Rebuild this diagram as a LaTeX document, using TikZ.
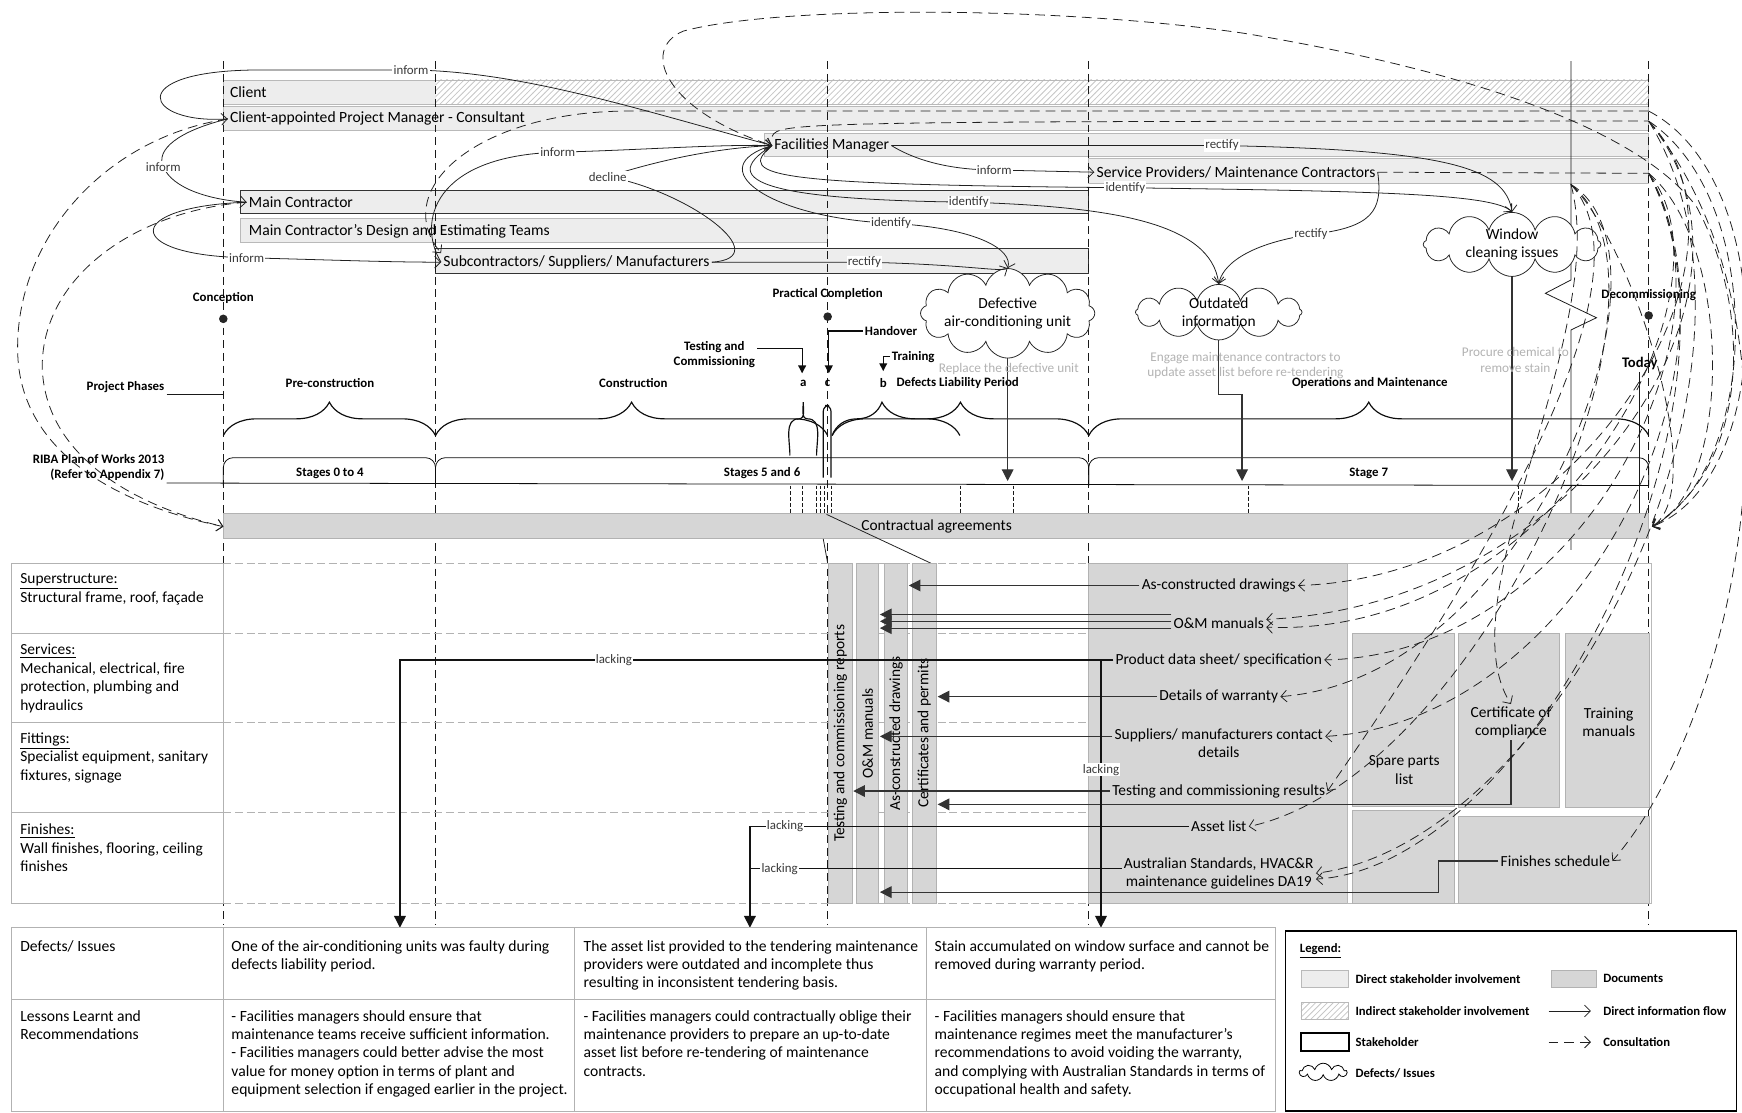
\documentclass[tikz,border=0pt]{standalone}
\usepackage{fontspec}
\setmainfont{Carlito}
\usetikzlibrary{arrows.meta, patterns, decorations.pathreplacing, shapes.symbols, positioning}

\tikzset{
  stakebar/.style={draw=gray!55, fill=gray!14},
  docbox/.style={draw=gray!60, fill=gray!32},
  phaseline/.style={gray!20!black, dash pattern=on 4pt off 2.5pt},
  gridline/.style={gray!60, dash pattern=on 4pt off 2pt},
  flow/.style={gray!25!black, -{Straight Barb[length=3pt,width=6pt]}},
  consult/.style={gray!25!black, dash pattern=on 5pt off 3pt, -{Straight Barb[length=3pt,width=6pt]}},
  docflow/.style={gray!40!black, semithick, -{Triangle[length=6pt,width=6pt]}},
  lack/.style={gray!15!black, semithick, -{Triangle[length=6pt,width=6pt]}},
  milestonearrow/.style={gray!10!black, semithick, -{Triangle[length=4pt,width=4pt]}},
  stxt/.style={font=\fontsize{8}{9.5}\selectfont, inner sep=1pt, anchor=west},
  ptxt/.style={font=\bfseries\fontsize{6.6}{7.6}\selectfont, inner sep=1pt, align=center},
  dtxt/.style={font=\fontsize{7.9}{9.4}\selectfont, inner sep=1pt, align=center},
  ttxt/.style={font=\fontsize{8}{9.4}\selectfont, inner sep=0pt, anchor=north west, align=left},
  gtxt/.style={font=\fontsize{7.9}{9.6}\selectfont, inner sep=0pt, anchor=north west, align=left},
  lbl/.style={font=\fontsize{6.6}{7.5}\selectfont, fill=white, inner sep=0.6pt, text=gray!45!black},
  note/.style={font=\fontsize{6.8}{8}\selectfont, text=gray!60, align=center, inner sep=0pt},
  issue/.style={cloud, draw=gray!30!black, cloud puffs=12, cloud ignores aspect=false, aspect=2.9,
    fill=white, align=center, font=\fontsize{7.9}{9.4}\selectfont, inner sep=-2pt},
  legtxt/.style={font=\bfseries\fontsize{6.5}{8}\selectfont, anchor=west, inner sep=1pt},
}

\begin{document}
\begin{tikzpicture}[x=0.02cm, y=-0.02cm]
\useasboundingbox (0,0) rectangle (1568,1001);

% stakeholder bars
\fill[gray!14] (201,72) rectangle (392,94);
\fill[pattern=north east lines, pattern color=gray!45] (392,72) rectangle (1484,94);
\draw[gray!55] (201,72) rectangle (1484,94);
\draw[stakebar] (201,96) rectangle (1484,117);
\draw[stakebar] (688,120) rectangle (1484,141);
\draw[stakebar] (980,143) rectangle (1484,165);
\draw[stakebar, draw=gray!40!black] (216,171) rectangle (980,192);
\draw[stakebar] (216,197) rectangle (745,218);
\draw[stakebar, draw=gray!40!black] (392,224) rectangle (980,246);

% phase boundaries
\foreach \x in {201,392,745,980,1484}
  \draw[phaseline] (\x,55) -- (\x,833);
\draw[gray!20!black] (1414,55) -- (1414,252) -- (1391,264) -- (1437,286) -- (1414,297) -- (1414,495);

% stakeholders
\node[stxt] (client) at (205,83) {Client};
\node[stxt] (pm) at (205,107) {Client-appointed Project Manager - Consultant};
\node[stxt] (fm) at (695,131) {Facilities Manager};
\node[stxt] (sp) at (985,155) {Service Providers/ Maintenance Contractors};
\node[stxt] (mc) at (222,182) {Main Contractor};
\node[stxt] (mcd) at (222,208) {Main Contractor’s Design and Estimating Teams};
\node[stxt] (sub) at (397,236) {Subcontractors/ Suppliers/ Manufacturers};

% milestones
\node[ptxt] (conc) at (201,268) {Conception};
\node[ptxt] (prac) at (745,265) {Practical Completion};
\node[ptxt] (decom) at (1484,266) {Decommissioning};
\foreach \x/\y in {201/287, 745/285, 1484/284}
  \fill[gray!30!black] (\x,\y) circle (2.2pt);

\node[ptxt] (hand) at (802,298) {Handover};
\coordinate (handT) at (746,336);
\draw[milestonearrow] (hand.west) -| (handT);
\node[ptxt] (tc) at (643,319) {Testing and\\Commissioning};
\coordinate (tcT) at (722,336);
\draw[milestonearrow] ([yshift=3pt]tc.east) -| (tcT);
\node[ptxt] (train) at (822,321) {Training};
\coordinate (trT) at (795,334);
\draw[milestonearrow] (train.west) -| (trT);
\node[ptxt] (la) at (723,345) {a};
\node[ptxt] (lc) at (745,345) {c};
\node[ptxt] (lb) at (795,345) {b};
\node[ptxt] (dlp) at (862,345) {Defects Liability Period};
\node[ptxt] (pre) at (297,345) {Pre-construction};
\node[ptxt] (cons) at (570,345) {Construction};
\node[ptxt] (om7) at (1233,345) {Operations and Maintenance};
\node[ptxt, font=\bfseries\fontsize{7.5}{8.5}\selectfont] (today) at (1476,327) {Today};
\coordinate (todayB) at (1476,462);
\draw[gray!20!black] (today.south) -- (todayB);

\node[ptxt, anchor=east] (pp) at (150,348) {Project Phases};
\coordinate (ppE) at (201,356);
\draw[gray!20!black] (pp.south east) -- (pp.south east -| ppE);
\node[ptxt, anchor=east, align=right] (riba) at (150,421) {RIBA Plan of Works 2013\\(Refer to Appendix 7)};

% braces
\foreach \a/\b in {201/392, 392/745, 749/980, 980/1484}
  \draw[gray!10!black, semithick, decorate, decoration={brace, amplitude=0.6cm}] (\a,392) -- (\b,392);
\draw[gray!10!black, semithick, decorate, decoration={brace, amplitude=0.6cm, aspect=0.39}] (749,392) -- (864,392);
\draw[gray!10!black, semithick] (711,410) to[out=90,in=180] (719,377) to[out=0,in=-90] (723,362)
  to[out=-90,in=180] (727,377) to[out=0,in=90] (735,410);
\draw[gray!10!black, semithick, rounded corners=3pt] (741,430) -- (741,365) -- (748,365) -- (748,430);
\foreach \x in {711,722,735,738,742,748,864,912,1124,1367}
  \draw[gray!20!black, thin, dash pattern=on 2pt off 1pt] (\x,437) -- (\x,462);

% RIBA stages
\foreach \a/\b in {201/392, 392/980, 980/1484}
  \draw[gray!10!black, rounded corners=5pt] (\a,437) -- (\a,412) -- (\b,412) -- (\b,437);
\draw[gray!10!black] (riba.south east) -- (1484,437);
\node[ptxt] (s04) at (297,426) {Stages 0 to 4};
\node[ptxt] (s56) at (686,426) {Stages 5 and 6};
\node[ptxt] (s7) at (1232,426) {Stage 7};

% contractual agreements
\draw[docbox] (201,462) rectangle (1484,485);
\node[dtxt] (contract) at (843,474) {Contractual agreements};
\coordinate (ctL) at (201,474);
\coordinate (ctR) at (1487,474);
\draw[gray!25!black] (744,463) -- (838,507);
\draw[gray!25!black] (741,485) -- (745,507);

% building elements
\draw[gray!60] (10,507) rectangle (201,813);
\foreach \y in {570,650,731}
  \draw[gray!60] (10,\y) -- (201,\y);
\foreach \y in {507,570,650,731,813}
  \draw[gridline] (201,\y) -- (980,\y);
\node[gtxt] (super) at (18,516) {\underline{Superstructure:}\\Structural frame, roof, façade};
\node[gtxt] (serv) at (18,579) {\underline{Services:}\\Mechanical, electrical, fire\\protection, plumbing and\\hydraulics};
\node[gtxt] (fitt) at (18,659) {\underline{Fittings:}\\Specialist equipment, sanitary\\fixtures, signage};
\node[gtxt] (fini) at (18,741) {\underline{Finishes:}\\Wall finishes, flooring, ceiling\\finishes};

% handover documents
\draw[docbox] (746,507) rectangle (767,813);
\draw[docbox] (771,507) rectangle (791,813);
\draw[docbox] (796,507) rectangle (817,813);
\draw[docbox] (821,507) rectangle (843,813);
\node[dtxt, rotate=90] (tcrep) at (756.5,660) {Testing and commissioning reports};
\node[dtxt, rotate=90] (omcol) at (781,660) {O\&M manuals};
\node[dtxt, rotate=90] (acdcol) at (806.5,660) {As-constructed drawings};
\node[dtxt, rotate=90] (certcol) at (832,660) {Certificates and permits};
\coordinate (c1) at (768,0);
\coordinate (c2) at (792,0);
\coordinate (c3) at (818,0);
\coordinate (c4) at (844,0);

\draw[docbox] (980,507) rectangle (1213,813);
\draw[gray!55] (1213,507) rectangle (1486,813);
\draw[docbox] (1217,570) rectangle (1309,726);
\draw[docbox] (1217,729) rectangle (1309,813);
\draw[docbox] (1313,570) rectangle (1404,727);
\draw[docbox] (1409,570) rectangle (1485,727);
\draw[docbox] (1313,735) rectangle (1485,813);

\node[dtxt] (acd) at (1097,527) {As-constructed drawings};
\node[dtxt] (om) at (1097,561) {O\&M manuals};
\node[dtxt] (pds) at (1097,594) {Product data sheet/ specification};
\node[dtxt] (dow) at (1097,627) {Details of warranty};
\node[dtxt] (smc) at (1097,669) {Suppliers/ manufacturers contact\\details};
\node[dtxt] (tcr) at (1097,712) {Testing and commissioning results};
\node[dtxt] (al) at (1097,744) {Asset list};
\node[dtxt] (as) at (1097,786) {Australian Standards, HVAC\&R\\maintenance guidelines DA19};
\node[dtxt] (spl) at (1264,693) {Spare parts\\list};
\node[dtxt] (cert) at (1360,650) {Certificate of\\compliance};
\node[dtxt] (trm) at (1448,650) {Training\\manuals};
\node[dtxt] (fs) at (1400,775) {Finishes schedule};

% document flows
\draw[docflow] (acd.west) -- (acd.west -| c3);
\foreach \s in {4.5,1,-2.5}
  \draw[docflow] ([yshift=\s pt]om.west) -- ([yshift=\s pt]om.west -| c2);
\draw[docflow] (dow.west) -- (dow.west -| c4);
\draw[docflow] ([yshift=3.5pt]smc.west) -- ([yshift=3.5pt]smc.west -| c2);
\draw[docflow] (tcr.west) -- (tcr.west -| c1);
\coordinate (cl) at (844,724);
\draw[docflow] (cert.south) |- (cl);
\coordinate (fsk) at (1295,803);
\draw[docflow] (fs.west) -| (fsk) -- (fsk -| c2);

% lacking information
\coordinate (lk1) at (360,835);
\coordinate (lk2) at (675,835);
\coordinate (lk3top) at (991,594);
\coordinate (lk3) at (991,835);
\draw[lack] (pds.west) -| node[lbl, pos=0.35] {lacking} (lk1);
\draw[lack] (al.west) -| node[lbl, pos=0.46] {lacking} (lk2);
\draw[gray!15!black, semithick] ([yshift=2.3pt]as.west) -- ([yshift=2.3pt]as.west -| lk2) node[lbl, pos=0.92] {lacking};
\draw[lack] (lk3top) -- node[lbl, pos=0.41] {lacking} (lk3);

% defects and issues
\node[issue, minimum width=2.8cm, minimum height=1cm] (def) at (907,282) {Defective\\air-conditioning unit};
\node[issue, minimum width=3cm, minimum height=1cm] (out) at (1097,281) {Outdated\\information};
\node[issue, minimum width=3.2cm, minimum height=1.05cm] (win) at (1361,220) {Window\\cleaning issues};
\coordinate (defT) at (907,433);
\coordinate (outK) at (1118,355);
\coordinate (outT) at (1118,433);
\coordinate (winT) at (1361,433);
\draw[docflow] (def.south) -- (defT);
\draw[docflow] (out.south) |- (outK) -- (outT);
\draw[docflow] (win.south) -- (winT);
\node[note] (repl) at (908,332) {Replace the defective unit};
\node[note] (eng) at (1121,329) {Engage maintenance contractors to\\update asset list before re-tendering};
\node[note] (proc) at (1364,324) {Procure chemical to\\remove stain};

% direct information flow
\draw[flow, {Straight Barb[length=3pt,width=6pt]}-{Straight Barb[length=3pt,width=6pt]}] (pm.west)
  .. controls (130,112) and (110,64) .. (230,63) -- (370,63) node[lbl] {inform}
  .. controls (470,64) and (580,100) .. (fm.west);
\draw[flow] (pm.west) .. controls (160,118) and (140,135) .. (147,150) node[lbl] {inform}
  .. controls (155,170) and (190,180) .. (mc.west);
\draw[flow] (mc.west) .. controls (110,186) and (110,230) .. (222,232) node[lbl] {inform}
  .. controls (300,234) and (350,236) .. (sub.west);
\draw[flow] (sub.west) .. controls (375,200) and (390,140) .. (502,137) node[lbl] {inform}
  .. controls (580,135) and (640,130) .. (fm.west);
\draw[flow] (sub.east) .. controls (700,232) and (620,172) .. (547,159) node[lbl] {decline}
  .. controls (600,142) and (650,133) .. (fm.west);
\draw[flow] (sub.east) -- (778,236) node[lbl] {rectify}
  .. controls (870,238) and (900,245) .. (def.north);
\draw[flow] (fm.west) .. controls (630,150) and (690,196) .. (802,201) node[lbl] {identify}
  .. controls (880,205) and (912,225) .. (def.north);
\draw[flow] (fm.west) .. controls (640,165) and (700,180) .. (872,182) node[lbl] {identify}
  .. controls (1000,186) and (1090,200) .. (out.north);
\draw[flow] (fm.west) .. controls (660,160) and (700,166) .. (1013,169) node[lbl] {identify}
  .. controls (1250,172) and (1345,175) .. (win.north);
\draw[flow] (fm.east) .. controls (820,142) and (850,153) .. (895,153) node[lbl] {inform} -- (sp.west);
\draw[flow] (fm.east) -- (1100,131) node[lbl] {rectify}
  .. controls (1300,135) and (1355,150) .. (win.north);
\draw[flow] (sp.east) .. controls (1245,190) and (1235,205) .. (1180,211) node[lbl] {rectify}
  .. controls (1120,220) and (1100,240) .. (out.north);

% consultation
\coordinate (pmR) at (1484,100);
\coordinate (cA) at (1484,109);
\coordinate (cB) at (1484,156);
\coordinate (cC) at (1414,166);
\draw[consult] (pm.west) .. controls (90,125) and (12,220) .. (16,320)
  .. controls (20,410) and (110,455) .. (ctL);
\draw[consult] (mc.west) .. controls (120,190) and (38,250) .. (38,330)
  .. controls (40,410) and (120,455) .. (ctL);
\draw[consult] (ctR) .. controls (1575,420) and (1578,280) .. (1527,186)
  .. controls (1470,110) and (1300,60) .. (1120,30)
  .. controls (950,5) and (700,5) .. (615,28)
  .. controls (575,45) and (600,100) .. (fm.west);
\draw[consult] (pmR) -- (560,100) .. controls (430,102) and (350,170) .. (sub.north west);
\draw[consult, -] (fm.north west) .. controls (700,110) and (720,109) .. (cA);
\draw[consult, -] (sp.east) -- (cB);
\draw[consult] (pmR) .. controls (1600,160) and (1600,430) .. (ctR);
\draw[consult] (cA) .. controls (1590,180) and (1585,420) .. (ctR);
\draw[consult] (cA) .. controls (1600,230) and (1420,520) .. (acd.east);
\draw[consult] (cA) .. controls (1610,260) and (1420,545) .. ([yshift=2pt]om.east);
\draw[consult] (cA) .. controls (1620,330) and (1400,760) .. (as.east);
\draw[consult] (cA) .. controls (1640,300) and (1560,650) .. (fs.east);
\draw[consult] (cB) .. controls (1560,220) and (1560,440) .. (ctR);
\draw[consult] (cB) .. controls (1570,260) and (1400,575) .. ([yshift=-2pt]om.east);
\draw[consult] (cB) .. controls (1570,300) and (1420,590) .. (pds.east);
\draw[consult] (cB) .. controls (1580,330) and (1420,650) .. ([yshift=3.5pt]smc.east);
\draw[consult] (cB) .. controls (1590,360) and (1380,780) .. ([yshift=-3pt]as.east);
\draw[consult] (cC) .. controls (1520,230) and (1380,610) .. (dow.east);
\draw[consult] (cC) .. controls (1500,260) and (1300,560) .. (tcr.east);
\draw[consult] (cC) .. controls (1530,260) and (1330,700) .. (al.east);
\draw[consult] (cC) .. controls (1450,300) and (1300,540) .. (cert.north);
\draw[consult] (cC) .. controls (1470,220) and (1540,440) .. (ctR);

% lessons learnt
\draw[gray!60] (10,835) rectangle (1148,1000);
\draw[gray!60] (10,900) -- (1148,900);
\foreach \x in {201,517,834}
  \draw[gray!60] (\x,835) -- (\x,1000);
\node[ttxt] (t00) at (18,846) {Defects/ Issues};
\node[ttxt] (t10) at (18,909) {Lessons Learnt and\\Recommendations};
\node[ttxt] (t01) at (208,846) {One of the air-conditioning units was faulty during\\defects liability period.};
\node[ttxt] (t11) at (208,909) {- Facilities managers should ensure that\\maintenance teams receive sufficient information.\\- Facilities managers could better advise the most\\value for money option in terms of plant and\\equipment selection if engaged earlier in the project.};
\node[ttxt] (t02) at (525,846) {The asset list provided to the tendering maintenance\\providers were outdated and incomplete thus\\resulting in inconsistent tendering basis.};
\node[ttxt] (t12) at (525,909) {- Facilities managers could contractually oblige their\\maintenance providers to prepare an up-to-date\\asset list before re-tendering of maintenance\\contracts.};
\node[ttxt] (t03) at (841,846) {Stain accumulated on window surface and cannot be\\removed during warranty period.};
\node[ttxt] (t13) at (841,909) {- Facilities managers should ensure that\\maintenance regimes meet the manufacturer’s\\recommendations to avoid voiding the warranty,\\and complying with Australian Standards in terms of\\occupational health and safety.};

% legend
\draw[thick] (1157,838) rectangle (1563,1000);
\node[legtxt] (legend) at (1168,856) {\underline{Legend:}};
\draw[stakebar] (1171,873) rectangle (1214,889);
\node[legtxt] (l1) at (1218,881) {Direct stakeholder involvement};
\fill[pattern=north east lines, pattern color=gray!45] (1171,902) rectangle (1214,918);
\draw[gray!55] (1171,902) rectangle (1214,918);
\node[legtxt] (l2) at (1218,910) {Indirect stakeholder involvement};
\draw[thick] (1171,930) rectangle (1214,946);
\node[legtxt] (l3) at (1218,938) {Stakeholder};
\node[cloud, draw, cloud puffs=9, cloud ignores aspect=false, aspect=2.8, minimum width=0.85cm, minimum height=0.32cm, inner sep=0pt] (lcl) at (1191,965) {};
\node[legtxt] (l4) at (1218,966) {Defects/ Issues};
\draw[docbox] (1396,873) rectangle (1437,889);
\node[legtxt] (l5) at (1441,881) {Documents};
\coordinate (lf1) at (1394,910);
\coordinate (lf2) at (1432,910);
\draw[flow] (lf1) -- (lf2);
\node[legtxt] (l6) at (1441,910) {Direct information flow};
\coordinate (lc1) at (1394,938);
\coordinate (lc2) at (1432,938);
\draw[consult] (lc1) -- (lc2);
\node[legtxt] (l7) at (1441,938) {Consultation};
\end{tikzpicture}
\end{document}
